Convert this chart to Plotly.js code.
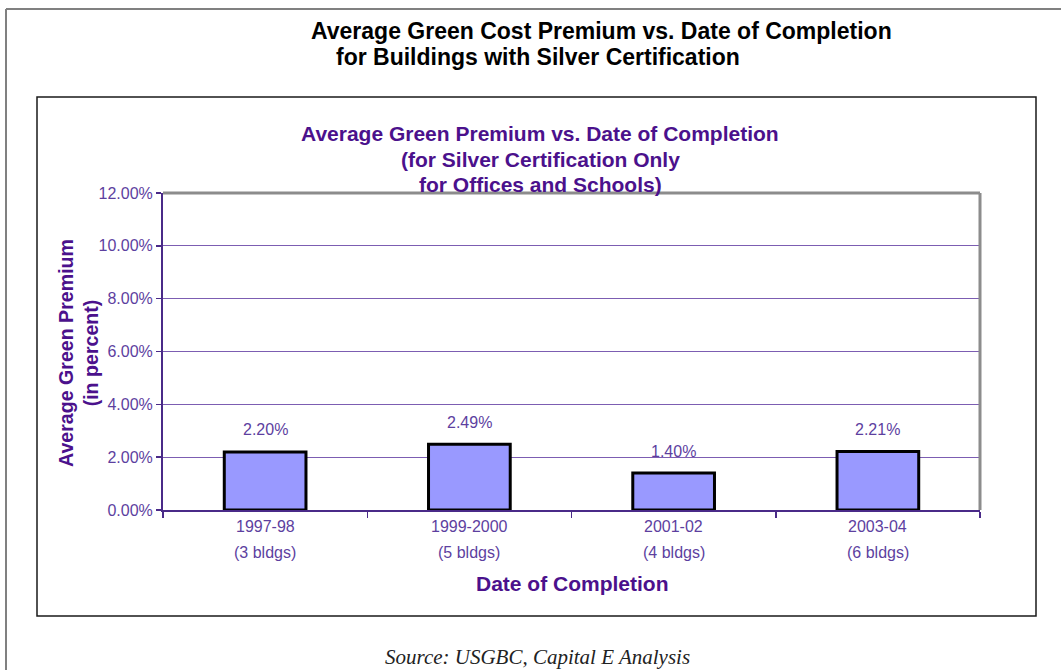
<!DOCTYPE html>
<html>
<head>
<meta charset="utf-8">
<script src="https://cdn.plot.ly/plotly-3.0.1.min.js"></script>
<style>
  html, body { margin: 0; padding: 0; background: #ffffff; }
  #chart { width: 1061px; height: 670px; }
</style>
</head>
<body>
<div id="chart"></div>
<script>
// ---- data ----
const categories = ['1997-98', '1999-2000', '2001-02', '2003-04'];
const buildingCounts = ['(3 bldgs)', '(5 bldgs)', '(4 bldgs)', '(6 bldgs)'];
const premiums = [0.0220, 0.0249, 0.0140, 0.0221];

const pageTitleLines = ['Average Green Cost Premium vs. Date of Completion', 'for Buildings with Silver Certification'];
const chartTitleLines = ['Average Green Premium vs. Date of Completion', '(for Silver Certification Only', 'for Offices and Schools)'];
const yTitleLines = ['Average Green Premium', '(in percent)'];
const xTitle = 'Date of Completion';
const sourceText = 'Source: USGBC, Capital E Analysis';

// ---- layout geometry (pixels) ----
const W = 1061, H = 670;
const PL = 163, PR = 980, PT = 193, PB = 510;
const pw = PR - PL, ph = PB - PT;
const fx = x => (x - PL) / pw;
const fy = y => (PB - y) / ph;

const FONT = 'Liberation Sans, Arial, sans-serif';
const titlePurple = '#4b118c';
const tickPurple = '#5d3f9f';
const gridPurple = '#7c5db2';
const axisPurple = '#4a2a88';

const trace = {
  type: 'bar',
  x: categories,
  y: premiums,
  width: 0.4,
  marker: { color: '#9999ff', line: { color: '#000000', width: 3 } },
  hoverinfo: 'x+y',
  cliponaxis: false
};

const annotations = [];
// page title
annotations.push({ xref: 'paper', yref: 'paper', x: fx(601.5), y: fy(31), xanchor: 'center', yanchor: 'middle',
  text: '<b>' + pageTitleLines[0] + '</b>', showarrow: false, font: { family: FONT, size: 23, color: '#000000' } });
annotations.push({ xref: 'paper', yref: 'paper', x: fx(537.5), y: fy(57), xanchor: 'center', yanchor: 'middle',
  text: '<b>' + pageTitleLines[1] + '</b>', showarrow: false, font: { family: FONT, size: 23, color: '#000000' } });
// chart title
const ctY = [133, 159.5, 185];
chartTitleLines.forEach((t, i) => {
  annotations.push({ xref: 'paper', yref: 'paper', x: fx(540), y: fy(ctY[i]), xanchor: 'center', yanchor: 'middle',
    text: '<b>' + t + '</b>', showarrow: false, font: { family: FONT, size: 21, color: titlePurple } });
});
// y axis title
annotations.push({ xref: 'paper', yref: 'paper', x: fx(78), y: fy(353), xanchor: 'center', yanchor: 'middle',
  textangle: -90, text: '<b>' + yTitleLines.join('<br>') + '</b>', showarrow: false,
  font: { family: FONT, size: 19.6, color: titlePurple } });
// x axis title
annotations.push({ xref: 'paper', yref: 'paper', x: fx(572), y: fy(583), xanchor: 'center', yanchor: 'middle',
  text: '<b>' + xTitle + '</b>', showarrow: false, font: { family: FONT, size: 21, color: titlePurple } });
// x category labels (two lines)
categories.forEach((c, i) => {
  annotations.push({ xref: 'x', yref: 'paper', x: c, y: 0, yshift: -(526 - PB), xanchor: 'center', yanchor: 'middle',
    text: c, showarrow: false, font: { family: FONT, size: 16, color: tickPurple } });
  annotations.push({ xref: 'x', yref: 'paper', x: c, y: 0, yshift: -(552 - PB), xanchor: 'center', yanchor: 'middle',
    text: buildingCounts[i], showarrow: false, font: { family: FONT, size: 16, color: tickPurple } });
});
// value labels
categories.forEach((c, i) => {
  annotations.push({ xref: 'x', yref: 'y', x: c, y: premiums[i], yshift: 22, xanchor: 'center', yanchor: 'middle',
    text: (premiums[i] * 100).toFixed(2) + '%', showarrow: false, font: { family: FONT, size: 16, color: tickPurple } });
});
// source
annotations.push({ xref: 'paper', yref: 'paper', x: fx(537), y: fy(657), xanchor: 'center', yanchor: 'middle',
  text: '<i>' + sourceText + '</i>', showarrow: false, font: { family: 'Liberation Serif, Times New Roman, serif', size: 21, color: '#222222' } });

const shapes = [
  // page border (top and left)
  { type: 'line', xref: 'paper', yref: 'paper', x0: fx(6), x1: fx(1061), y0: fy(9), y1: fy(9), line: { color: '#808080', width: 2 } },
  { type: 'line', xref: 'paper', yref: 'paper', x0: fx(6), x1: fx(6), y0: fy(9), y1: fy(670), line: { color: '#808080', width: 2 } },
  // chart box
  { type: 'rect', xref: 'paper', yref: 'paper', x0: fx(37), x1: fx(1036), y0: fy(616), y1: fy(97), line: { color: '#1a1a1a', width: 1.5 } },
  // plot area top and right borders
  { type: 'line', xref: 'paper', yref: 'paper', x0: 0, x1: 1, y0: 1, y1: 1, line: { color: '#8c8c8c', width: 3 } },
  { type: 'line', xref: 'paper', yref: 'paper', x0: 1, x1: 1, y0: 0, y1: 1, line: { color: '#8c8c8c', width: 3 } }
];

const layout = {
  width: W, height: H,
  margin: { l: PL, r: W - PR, t: PT, b: H - PB, pad: 0 },
  paper_bgcolor: '#ffffff',
  plot_bgcolor: '#ffffff',
  showlegend: false,
  bargap: 0.6,
  xaxis: {
    type: 'category',
    showticklabels: false,
    tickson: 'boundaries',
    ticks: 'outside', ticklen: 6, tickwidth: 1.5, tickcolor: axisPurple,
    showgrid: false,
    showline: true, linecolor: axisPurple, linewidth: 2,
    zeroline: false,
    fixedrange: true
  },
  yaxis: {
    range: [0, 0.12],
    dtick: 0.02,
    tick0: 0,
    tickformat: '.2%',
    ticks: 'outside', ticklen: 5, tickwidth: 1.5, tickcolor: axisPurple,
    showline: true, linecolor: axisPurple, linewidth: 2,
    showgrid: true, gridcolor: gridPurple, gridwidth: 1,
    zeroline: false,
    tickfont: { family: FONT, size: 16, color: tickPurple },
    fixedrange: true
  },
  annotations: annotations,
  shapes: shapes
};

Plotly.newPlot('chart', [trace], layout, { displayModeBar: false, staticPlot: true });
</script>
</body>
</html>
